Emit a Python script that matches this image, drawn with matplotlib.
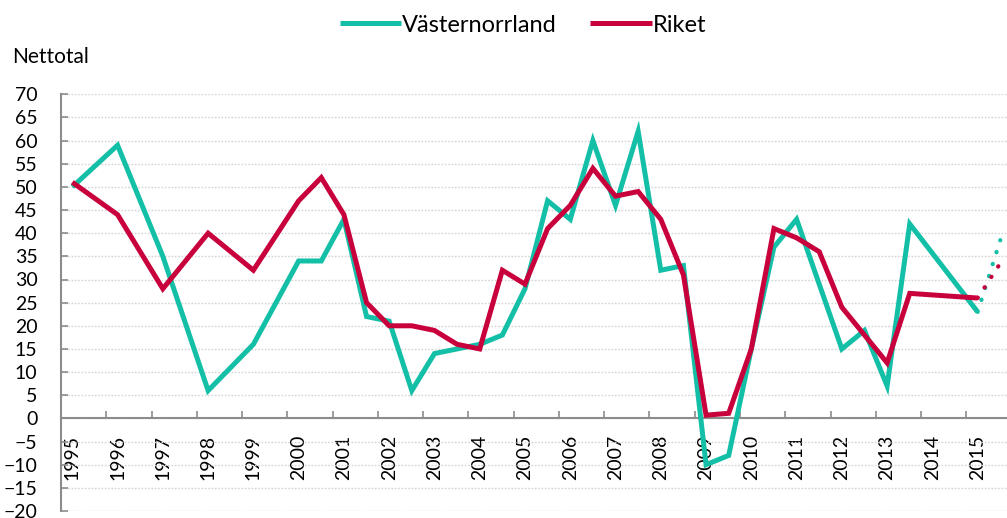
import numpy as np
import matplotlib
matplotlib.use("Agg")
import matplotlib.pyplot as plt

plt.rcParams['font.family'] = ['Lato', 'DejaVu Sans']

# ---- data (half-year slots, 1995 H1 .. 2015 H1) ----
years = list(range(1995, 2016))
vasternorrland = [50, None, 59, None, 35, None, 6, None, 16, None,
                  34, 34, 43, 22, 21, 6, 14, 15, 16, 18,
                  28, 47, 43, 60, 46, 62, 32, 33, -10, -8,
                  15, 37, 43, 29, 15, 19, 7, 42, None, None,
                  23]
riket = [51, None, 44, None, 28, None, 40, None, 32, None,
         47, 52, 44, 25, 20, 20, 19, 16, 15, 32,
         29, 41, 46, 54, 48, 49, 43, 31, 0.7, 1.1,
         15, 41, 39, 36, 24, 18, 12, 27, None, None,
         26]
# forecast for next half-year (dotted)
vasternorrland_forecast = 38.5
riket_forecast = 33.5

series_names = ["Västernorrland", "Riket"]
colors = ["#13BFA6", "#C8003C"]
ylabel_text = "Nettotal"

# ---- figure ----
W, H = 1007, 518
fig = plt.figure(figsize=(W / 100, H / 100), dpi=100)
ax_left, ax_right = 61, 1011.6
ax_top, ax_bot = 94.3, 511.0
ax = fig.add_axes([ax_left / W, (H - ax_bot) / H,
                   (ax_right - ax_left) / W, (ax_bot - ax_top) / H])

n_slots = len(vasternorrland) + 1
handles = []
for vals, fc, col, name in [(vasternorrland, vasternorrland_forecast, colors[0], series_names[0]),
                            (riket, riket_forecast, colors[1], series_names[1])]:
    xs = [i for i, v in enumerate(vals) if v is not None]
    ys = [v for v in vals if v is not None]
    h, = ax.plot(xs, ys, color=col, lw=3.6, solid_joinstyle='miter',
                 solid_capstyle='butt', label=name, zorder=3)
    handles.append(h)
    last = len(vals) - 1
    ax.plot([last, last + 1], [vals[last], fc], color=col, lw=3.0,
            linestyle=(0, (0.1, 2.9)), dash_capstyle='round', zorder=3)

ax.set_xlim(-0.5, n_slots - 0.5)
ax.set_ylim(-20, 70)

# spines
for s in ['top', 'right']:
    ax.spines[s].set_visible(False)
spine_col = "#8C8C8C"
ax.spines['left'].set_color(spine_col)
ax.spines['left'].set_linewidth(1.5)
ax.spines['bottom'].set_color(spine_col)
ax.spines['bottom'].set_linewidth(1.5)
ax.spines['bottom'].set_position(('data', 0))

# y ticks
ax.set_yticks(np.arange(-20, 71, 5))
ax.tick_params(axis='y', direction='in', length=5, width=1.2, color=spine_col,
               labelsize=14, pad=17, labelcolor='black')
ax.yaxis.grid(True, color="#D4D4D4", linestyle=(0, (1.2, 1.2)), lw=1.0)
ax.set_axisbelow(True)

# x ticks: marks at boundaries every 2 slots, labels at year slots
ax.set_xticks(np.arange(1.5, n_slots - 1, 2))
ax.tick_params(axis='x', which='major', direction='in', length=5, width=1.2,
               color=spine_col, labelbottom=False)
ax.set_xticks(np.arange(0, 2 * len(years), 2), minor=True)
ax.set_xticklabels([str(y) for y in years], minor=True, rotation=90)
ax.tick_params(axis='x', which='minor', length=0, pad=12, labelsize=14,
               labelcolor='black')

# title label
fig.text(12 / W, (H - 57) / H, ylabel_text, fontsize=15, ha='left', va='center')

# legend
fig.legend(handles=handles, labels=series_names, loc='center',
           bbox_to_anchor=(523 / W, (H - 25) / H), ncol=2, frameon=False,
           fontsize=17, handlelength=2.6, handletextpad=0.05, columnspacing=1.4)

fig.savefig("out.png", dpi=100)
